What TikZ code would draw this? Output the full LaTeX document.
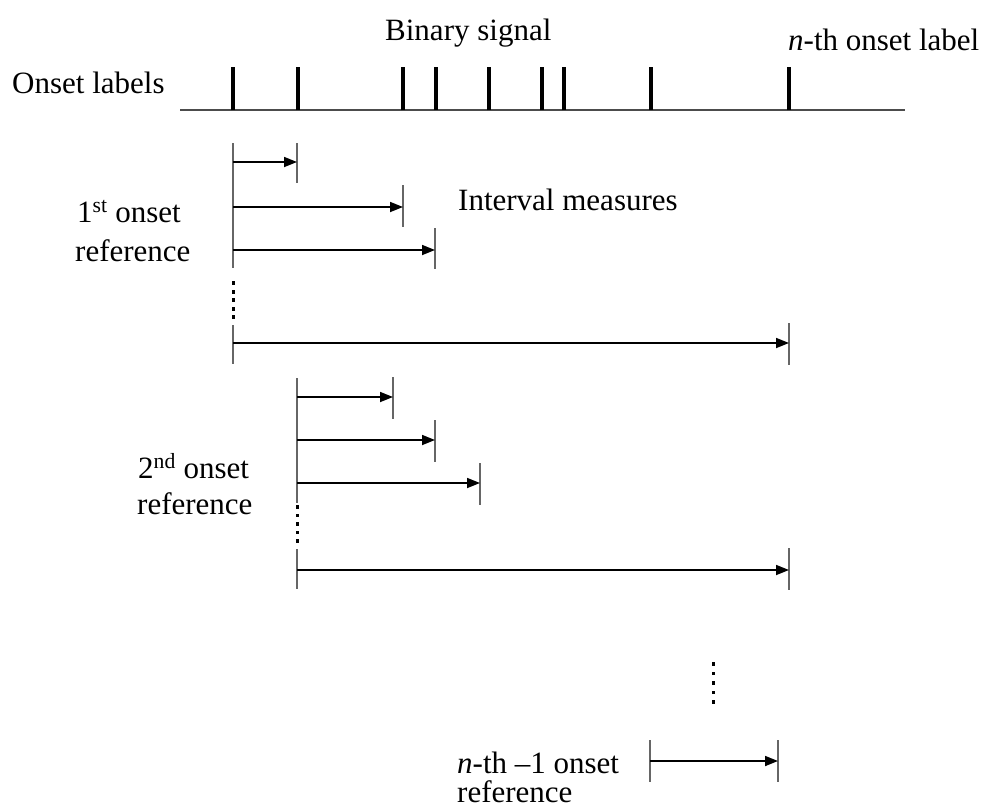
\documentclass[tikz,border=0pt]{standalone}
\usepackage{fontspec}
\setmainfont{Liberation Serif}
\usetikzlibrary{arrows.meta}
\begin{document}
\begin{tikzpicture}[x=1pt,y=-1pt,
 lbl/.style={anchor=base west,inner sep=0pt,font=\fontsize{31}{38}\selectfont},
 spike/.style={line width=4pt},
 base/.style={line width=1.8pt,draw=black!70},
 tick/.style={line width=2pt,draw=black!60},
 meas/.style={line width=1.7pt,-{Triangle[length=13pt,width=10pt]}},
 dotc/.style={fill=black}]
\useasboundingbox (0,0) rectangle (991,807);
% texts
\node[lbl] (bin) at (385,40) {Binary signal};
\node[lbl] (nth) at (788,50) {\textit{n}-th onset label};
\node[lbl] (ons) at (12,93) {Onset labels};
\node[lbl] (int) at (458,210) {Interval measures};
\node[lbl] (r1a) at (77,222) {1\textsuperscript{st} onset};
\node[lbl] (r1b) at (75,261) {reference};
\node[lbl] (r2a) at (138,478) {2\textsuperscript{nd} onset};
\node[lbl] (r2b) at (137,514) {reference};
\node[lbl] (r3a) at (457,773) {\textit{n}-th --1 onset};
\node[lbl] (r3b) at (457,802) {reference};
% binary signal
\coordinate (bl) at (180,110);
\coordinate (br) at (905,110);
\draw[base] (bl) -- (br);
\foreach \x [count=\i] in {233,298,403,436,489,542,564,651,789}{
  \coordinate (s\i) at (\x,110);
  \draw[spike] (s\i) -- ++(0,-43);
}
% group 1
\coordinate (g1t) at (233,143);
\coordinate (g1m) at (233,268);
\coordinate (g1u) at (233,325);
\coordinate (g1b) at (233,364);
\draw[tick] (g1t) -- (g1m);
\draw[tick] (g1u) -- (g1b);
\foreach \y in {283,291.5,300,308.5,317}{\fill[dotc] (231.5,\y-2) rectangle (234.5,\y+2);}
\coordinate (a1s) at (233,162); \coordinate (a1e) at (297,162);
\coordinate (a2s) at (233,207); \coordinate (a2e) at (403,207);
\coordinate (a3s) at (233,250); \coordinate (a3e) at (435,250);
\coordinate (a4s) at (233,343); \coordinate (a4e) at (789,343);
\draw[tick] (297,143) -- (297,183);
\draw[tick] (403,185) -- (403,227);
\draw[tick] (435,228) -- (435,269);
\draw[tick] (789,323) -- (789,365);
\draw[meas] (a1s) -- (a1e);
\draw[meas] (a2s) -- (a2e);
\draw[meas] (a3s) -- (a3e);
\draw[meas] (a4s) -- (a4e);
% group 2
\coordinate (g2t) at (297,378);
\coordinate (g2m) at (297,503);
\coordinate (g2u) at (297,549);
\coordinate (g2b) at (297,589);
\draw[tick] (g2t) -- (g2m);
\draw[tick] (g2u) -- (g2b);
\foreach \y in {507,515.5,524,532.5,541}{\fill[dotc] (295.5,\y-1.8) rectangle (298.5,\y+1.8);}
\coordinate (b1s) at (297,397); \coordinate (b1e) at (393,397);
\coordinate (b2s) at (297,440); \coordinate (b2e) at (435,440);
\coordinate (b3s) at (297,483); \coordinate (b3e) at (480,483);
\coordinate (b4s) at (297,570); \coordinate (b4e) at (789,570);
\draw[tick] (393,377) -- (393,419);
\draw[tick] (435,420) -- (435,462);
\draw[tick] (480,463) -- (480,505);
\draw[tick] (789,548) -- (789,590);
\draw[meas] (b1s) -- (b1e);
\draw[meas] (b2s) -- (b2e);
\draw[meas] (b3s) -- (b3e);
\draw[meas] (b4s) -- (b4e);
% group n-1
\foreach \y in {664,673.5,683,692.5,702}{\fill[dotc] (711.5,\y-1.8) rectangle (714.5,\y+1.8);}
\coordinate (c1s) at (650,761); \coordinate (c1e) at (778,761);
\draw[tick] (650,740) -- (650,782);
\draw[tick] (778,740) -- (778,782);
\draw[meas] (c1s) -- (c1e);
\end{tikzpicture}
\end{document}
